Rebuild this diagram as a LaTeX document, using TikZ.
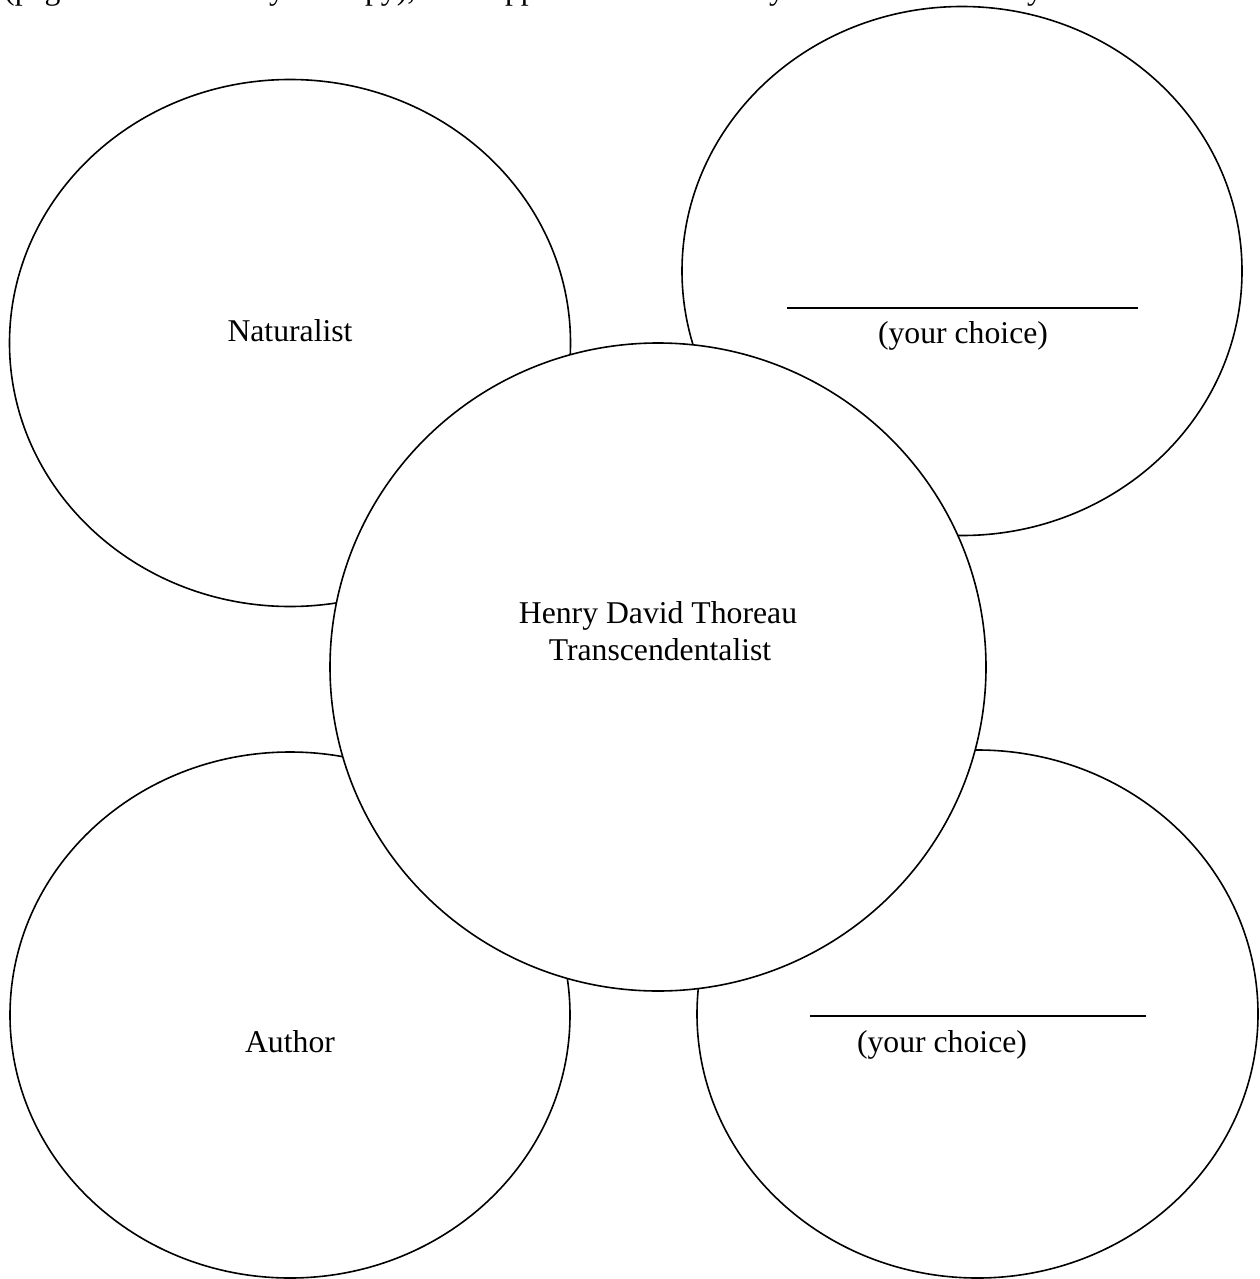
\documentclass[tikz,border=0pt]{standalone}
\usepackage{fontspec}
\setmainfont{Liberation Serif}
\usetikzlibrary{shapes.geometric}
\begin{document}
\begin{tikzpicture}[x=1pt,y=-1pt,
  outer/.style={draw=black,line width=1.6pt,ellipse,inner sep=0pt,fill=white},
  lbl/.style={inner sep=0pt,anchor=base,font=\fontsize{31.7}{38}\selectfont},
  blank/.style={line width=1.5pt}]
\useasboundingbox (0,0) rectangle (1260,1279);
\fill[white] (0,0) rectangle (1260,1279);
% clipped header line (only descenders visible)
\begin{scope}
\clip (0,0) rectangle (1260,1279);
\node[inner sep=0pt,anchor=base west,font=\fontsize{31.7}{38}\selectfont] (hdr) at (4,0)
  {(page numbers from your copy), and support each trait with your own ideas. Why};
\end{scope}
% outer ellipses
\node[outer,minimum width=561pt,minimum height=527pt] (nat) at (290,343) {};
\node[outer,minimum width=560pt,minimum height=529pt] (ch1) at (962,271) {};
\node[outer,minimum width=560pt,minimum height=526pt] (aut) at (290,1015) {};
\node[outer,minimum width=561pt,minimum height=528pt] (ch2) at (977.5,1014) {};
% centre circle
\node[outer,minimum width=656pt,minimum height=648pt] (hdt) at (658,667) {};
% labels
\node[lbl] (tnat) at (290,341) {Naturalist};
\node[lbl] (tch1) at (963,343) {(your choice)};
\node[lbl] (thdt) at (658,623) {Henry David Thoreau};
\node[lbl] (ttr) at (660,660) {Transcendentalist};
\node[lbl] (taut) at (290,1052) {Author};
\node[lbl] (tch2) at (942,1052) {(your choice)};
% blanks
\coordinate (b1a) at (787,308);
\coordinate (b1b) at (1138,308);
\coordinate (b2a) at (810,1016);
\coordinate (b2b) at (1146,1016);
\draw[blank] (b1a) -- (b1b);
\draw[blank] (b2a) -- (b2b);
\end{tikzpicture}
\end{document}
